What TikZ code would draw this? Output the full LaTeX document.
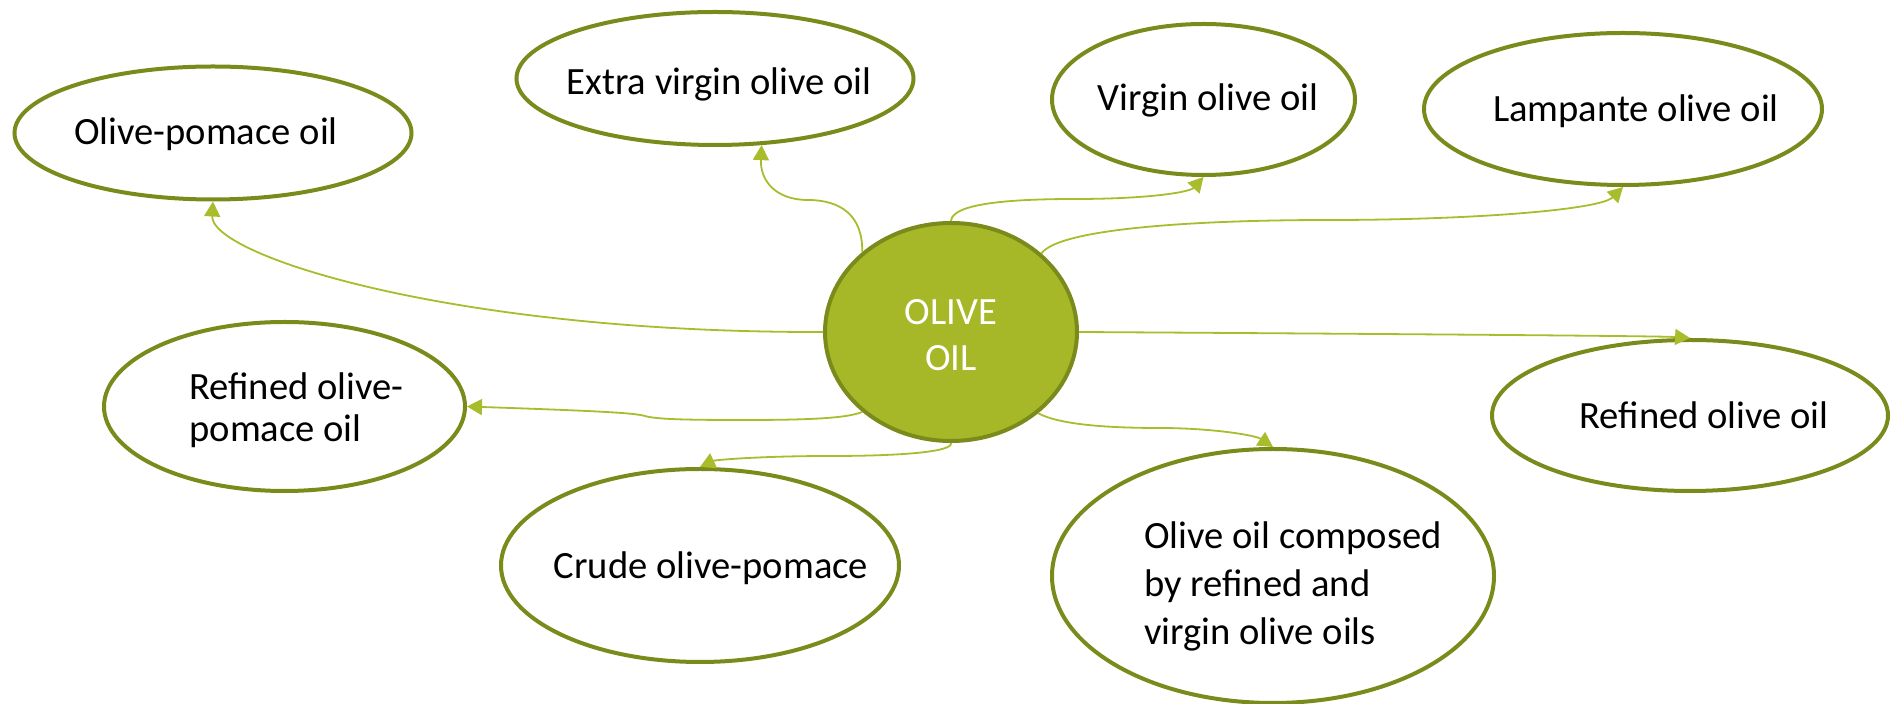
\documentclass[tikz,border=0pt]{standalone}
\usepackage{fontspec}
\setmainfont{Carlito}
\usetikzlibrary{shapes.geometric,arrows.meta}
\definecolor{oliveline}{HTML}{7A8B1C}
\definecolor{olivefill}{HTML}{A6B728}
\definecolor{connc}{HTML}{A8BC2C}
\begin{document}
\begin{tikzpicture}[x=0.5pt,y=-0.5pt,
  oval/.style={ellipse,draw=oliveline,line width=2pt,fill=white,inner sep=0pt},
  lbl/.style={font=\fontsize{19.3}{24}\selectfont,text=black,inner sep=0pt},
  conn/.style={draw=connc,line width=0.9pt,-{Triangle[length=7.5pt,width=8pt]}}]
\useasboundingbox (0,0) rectangle (1892,704);
% ellipses
\node[oval,minimum width=198.5pt,minimum height=66.5pt] (n1) at (213,133) {};
\node[oval,minimum width=198.5pt,minimum height=66.5pt] (n2) at (715,78.5) {};
\node[oval,minimum width=151.5pt,minimum height=75.5pt] (n3) at (1203.5,99.5) {};
\node[oval,minimum width=199pt,minimum height=76pt] (n4) at (1623,109) {};
\node[oval,minimum width=180.5pt,minimum height=84.5pt] (n5) at (284.5,406.5) {};
\node[oval,minimum width=198pt,minimum height=75.5pt] (n6) at (1690,415.5) {};
\node[oval,minimum width=199pt,minimum height=96.5pt] (n7) at (700,565.5) {};
\node[oval,minimum width=221pt,minimum height=127pt] (n8) at (1273,576) {};
\node[ellipse,draw=oliveline,line width=2pt,fill=olivefill,inner sep=0pt,minimum width=126pt,minimum height=109pt] (c) at (951,332) {};
% labels
\node[lbl] (t1) at (206,134) {Olive-pomace oil};
\node[lbl] (t2) at (719,84) {Extra virgin olive oil};
\node[lbl] (t3) at (1208,100) {Virgin olive oil};
\node[lbl] (t4) at (1636,111) {Lampante olive oil};
\node[lbl,anchor=west,align=left,font=\fontsize{19.3}{21.25}\selectfont] (t5) at (189,410) {Refined olive-\\pomace oil};
\node[lbl] (t6) at (1704,415) {Refined olive oil};
\node[lbl] (t7) at (711,568) {Crude olive-pomace};
\node[lbl,anchor=west,align=left] (t8) at (1144,586) {Olive oil composed\\by refined and\\virgin olive oils};
\node[lbl,align=center,text=white,font=\fontsize{19.3}{22.75}\selectfont] (t9) at (951,335) {OLIVE\\OIL};
% connectors
\draw[conn] (c.180) .. controls (450,333) and (210,255) .. (n1.south);
\draw[conn] (c.138) .. controls (863,215) and (840,200) .. (808,200) .. controls (775,200) and (760,180) .. (n2.-55);
\draw[conn] (c.90) .. controls (952,205) and (1000,199) .. (1075,199) .. controls (1150,199) and (1190,192) .. (n3.south);
\draw[conn] (c.41) .. controls (1060,228) and (1200,220) .. (1330,220) .. controls (1470,220) and (1600,210) .. (n4.south);
\draw[conn] (c.0) .. controls (1400,334) and (1660,336) .. (n6.north);
\draw[conn] (c.-43) .. controls (1060,425) and (1110,428) .. (1160,428) .. controls (1210,428) and (1255,435) .. (n8.north);
\draw[conn] (c.-90) .. controls (953,452) and (900,456) .. (830,456) .. controls (760,456) and (715,460) .. (n7.north);
\draw[conn] (c.222) .. controls (845,419) and (800,420) .. (740,420) .. controls (680,420) and (655,419) .. (645,416) .. controls (635,413) and (600,411) .. (n5.east);
\end{tikzpicture}
\end{document}
